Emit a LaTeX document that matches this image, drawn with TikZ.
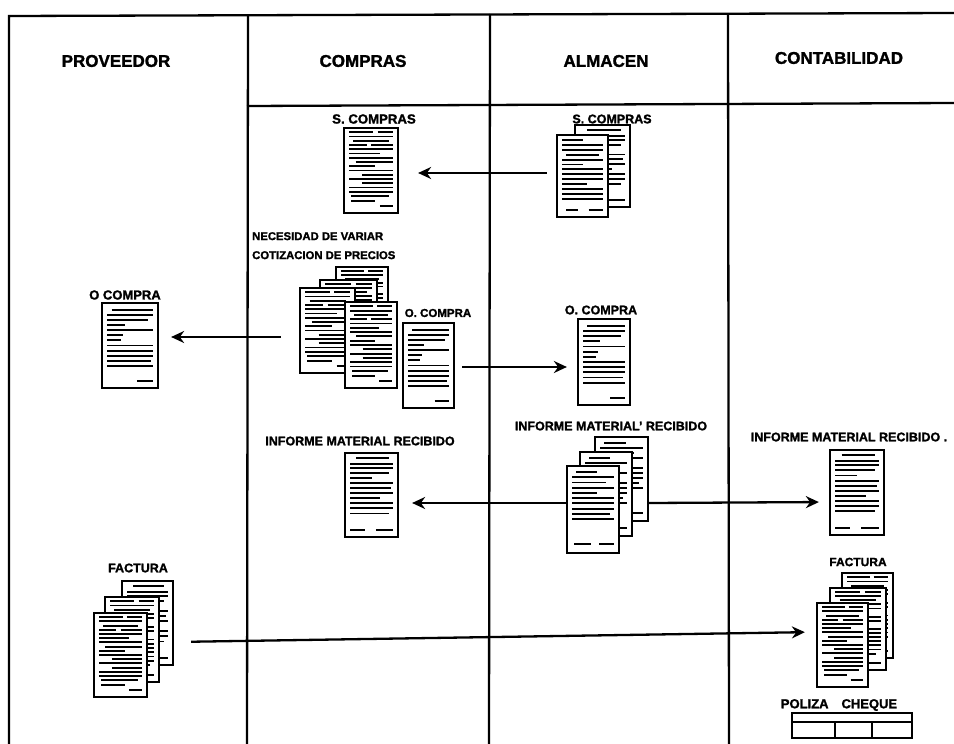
\documentclass[tikz,border=0pt]{standalone}
\usepackage{fontspec}
\setmainfont{Liberation Sans}[BoldFeatures={FakeBold=1.6}]
\usetikzlibrary{positioning,arrows.meta}
% text marks on the sheets: height/from/to, as fractions of the sheet
\def\denseMarks{.05/0/.55,.05/.65/1,.1/0/1,.15/.1/.9,.2/0/.4,.2/.5/1,.25/0/1,.3/0/.7,.35/0/1,.4/.15/1,.45/0/.6,.5/0/1,.55/.3/1,.6/0/1,.65/.3/1,.7/0/1,.75/0/1,.8/.05/.9,.86/.05/.6,.92/.7/1}
\def\plainMarks{.08/.1/1,.14/0/1,.2/0/.9,.26/0/.4,.32/0/1,.38/0/.35,.44/0/.3,.5/0/1,.56/0/1,.62/0/1,.68/0/.95,.74/0/1,.92/.65/1}
\def\formMarks{.06/.15/.9,.13/0/1,.18/0/1,.24/0/.9,.3/0/.5,.36/0/1,.42/0/.95,.48/0/1,.54/0/.7,.6/0/1,.66/0/1,.72/0/.9,.92/0/.35,.92/.6/1}
\def\fewMarks{.07/.1/.6,.13/0/1,.19/0/.8,.25/0/1,.31/0/.6,.37/0/1,.43/0/1,.49/0/1,.55/0/.9,.61/0/1,.9/.05/.45,.9/.65/1}
\def\darkMarks{.06/0/.5,.12/0/1,.18/0/1,.24/.1/.9,.3/0/1,.36/0/.5,.42/0/1,.48/0/1,.54/0/1,.6/0/.6,.66/0/1,.72/0/1,.78/0/1,.92/.1/.4,.92/.65/1}
% #1 name, #2 left, #3 top, #4 right, #5 bottom, #6 marks
\newcommand{\sheet}[6]{%
  \node[sheetbox, minimum width={(#4-#2)*1pt}, minimum height={(#5-#3)*1pt}] (#1) at ({(#2+#4)/2},{(#3+#5)/2}) {};
  \foreach \yy/\xa/\xb in #6
    \draw[mark line] ({#2+5+\xa*(#4-#2-10)},{#3+\yy*(#5-#3)}) -- ({#2+5+\xb*(#4-#2-10)},{#3+\yy*(#5-#3)});
}
\tikzset{
  sheetbox/.style={draw=black, fill=white, line width=2.2pt, inner sep=0pt},
  mark line/.style={line width=1.9pt, black},
  lane/.style={line width=2.3pt},
  flow/.style={line width=2.3pt, -{Stealth[length=13pt,width=12pt]}},
  head/.style={font=\fontsize{17}{18}\selectfont\bfseries, inner sep=0pt},
  tag/.style={font=\fontsize{#1}{19}\selectfont\bfseries, inner sep=0pt},
  tag/.default=12.5,
  chequecell/.style={draw=black, line width=2.2pt, inner sep=0pt, minimum height=16pt}
}
\begin{document}
\begin{tikzpicture}[x=1pt,y=-1pt]
  \useasboundingbox (0,0) rectangle (954,744);
  % frame
  \draw[lane] (9,744) -- (9,16) -- (954,13);
  \draw[lane] (247,744) -- (248,15);
  \draw[lane] (489,744) -- (490,14);
  \draw[lane] (729,744) -- (728,14);
  \draw[lane] (247,106) -- (954,103);
  % titles
  \node[head] (provTitle) at (116,61) {PROVEEDOR};
  \node[head] (comTitle) at (363,61) {COMPRAS};
  \node[head] (almTitle) at (606,61) {ALMACEN};
  \node[head] (conTitle) at (839,58) {CONTABILIDAD};
  % compras
  \node[tag=13.2] (sComTag) at (374,119) {S. COMPRAS};
  \sheet{sCom}{344}{128}{398}{213}{\denseMarks}
  \node[tag=11.3, align=left, anchor=north west] (necTag) at (252,232) {NECESIDAD DE VARIAR\\COTIZACION DE PRECIOS};
  \sheet{cotA}{336}{267}{388}{345}{\denseMarks}
  \sheet{cotB}{320}{280}{377}{360}{\denseMarks}
  \sheet{cotC}{300}{288}{355}{373}{\denseMarks}
  \sheet{cotD}{345}{302}{397}{388}{\denseMarks}
  \node[tag=11.5] (oComTag) at (438,313) {O. COMPRA};
  \sheet{oCom}{403}{323}{454}{408}{\plainMarks}
  \node[tag] (imrComTag) at (360,441) {INFORME MATERIAL RECIBIDO};
  \sheet{imrCom}{345}{453}{398}{537}{\formMarks}
  % almacen
  \node[tag] (sAlmTag) at (612,119) {S. COMPRAS};
  \sheet{sAlmB}{575}{125}{630}{207}{\formMarks}
  \sheet{sAlmA}{557}{135}{608}{217}{\darkMarks}
  \node[tag] (oAlmTag) at (601,310) {O. COMPRA};
  \sheet{oAlm}{578}{319}{630}{405}{\plainMarks}
  \node[tag] (imrAlmTag) at (611,426) {INFORME MATERIAL' RECIBIDO};
  \sheet{imrAlmC}{595}{437}{648}{521}{\fewMarks}
  \sheet{imrAlmB}{580}{452}{632}{536}{\fewMarks}
  \sheet{imrAlmA}{567}{466}{619}{553}{\fewMarks}
  % proveedor
  \node[tag=13] (oProvTag) at (125,295) {O COMPRA};
  \sheet{oProv}{102}{303}{158}{388}{\plainMarks}
  \node[tag] (facProvTag) at (138,568) {FACTURA};
  \sheet{facProvC}{122}{581}{173}{665}{\formMarks}
  \sheet{facProvB}{105}{597}{159}{682}{\denseMarks}
  \sheet{facProvA}{94}{613}{147}{697}{\denseMarks}
  % contabilidad
  \node[tag] (imrConTag) at (849,437) {INFORME MATERIAL RECIBIDO .};
  \node[tag=12] (facConTag) at (858,562) {FACTURA};
  \sheet{imrCon}{830}{450}{884}{535}{\formMarks}
  \sheet{facConC}{842}{573}{893}{658}{\denseMarks}
  \sheet{facConB}{830}{588}{886}{670}{\denseMarks}
  \sheet{facConA}{817}{603}{868}{687}{\denseMarks}
  \node[tag=13] (chequeTag) at (839,705) {POLIZA\quad CHEQUE};
  \node[chequecell, minimum width=120pt, minimum height=9pt] (chequeTop) at (852,717.5) {};
  \node[chequecell, minimum width=43pt] (chequeA) at (813.5,730) {};
  \node[chequecell, minimum width=37pt] (chequeB) at (853.5,730) {};
  \node[chequecell, minimum width=40pt] (chequeC) at (892,730) {};
  % flows
  \draw[flow, shorten <=9pt, shorten >=19pt] ([yshift=3pt]sAlmA.west) -- ([yshift=-2.5pt]sCom.east);
  \draw[flow, shorten <=18pt, shorten >=12pt] ([yshift=-6.5pt]cotC.west) -- ([yshift=8.5pt]oProv.east);
  \draw[flow, shorten <=7pt, shorten >=10pt] ([yshift=-1.5pt]oCom.east) -- ([yshift=-5pt]oAlm.west);
  \draw[flow, shorten >=13pt] ([yshift=6.5pt]imrAlmA.west) -- ([yshift=-8pt]imrCom.east);
  \draw[flow, shorten >=10pt] ([yshift=-24pt]imrAlmC.east) -- ([yshift=-9.5pt]imrCon.west);
  \draw[flow, shorten <=17pt, shorten >=11pt] ([yshift=-19pt]facProvC.east) -- ([yshift=13pt]facConA.west);
\end{tikzpicture}
\end{document}
